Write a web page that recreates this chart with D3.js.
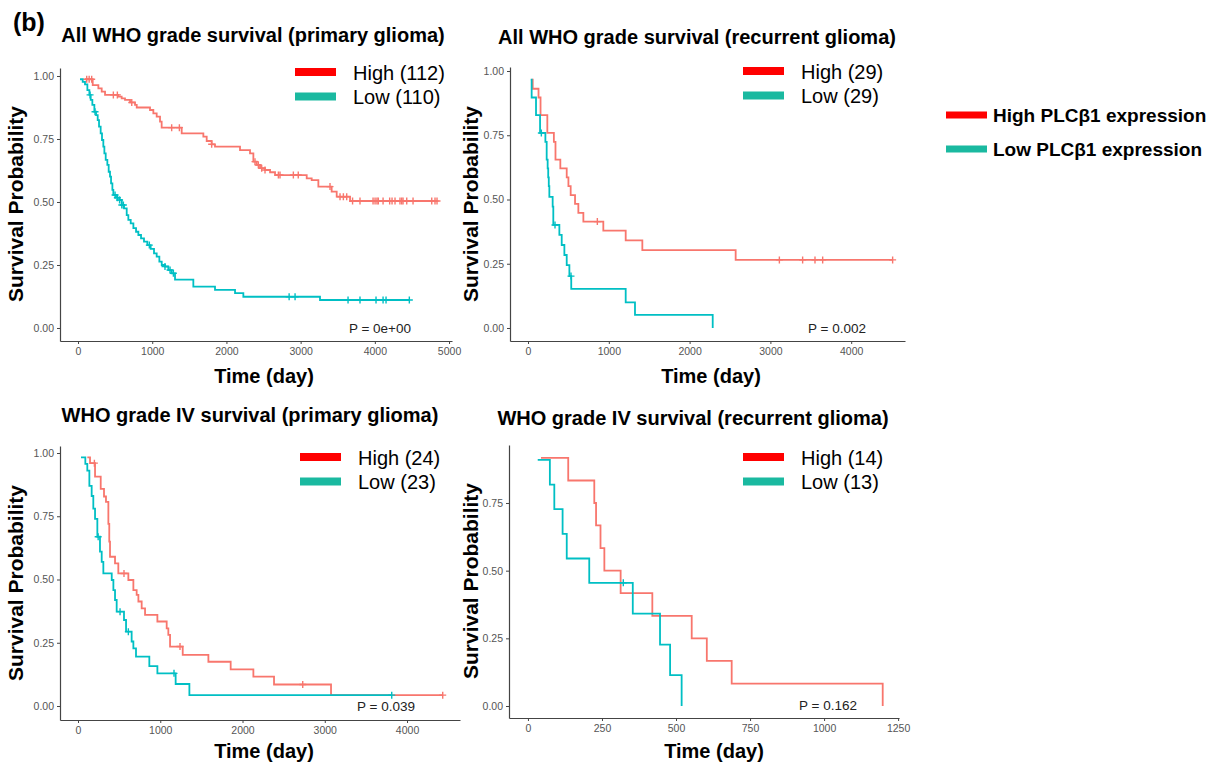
<!DOCTYPE html>
<html lang="en">
<head>
<meta charset="UTF-8">
<title>PLCb1 survival curves</title>
<script src="https://d3js.org/d3.v7.min.js"></script>
<style>
  body { margin: 0; background: #fff; }
  svg text { font-family: "Liberation Sans", Arial, Helvetica, sans-serif; }
</style>
</head>
<body>
<script>
// ---- data ----
var panelTitles = [
  "All WHO grade survival (primary glioma)",
  "All WHO grade survival (recurrent glioma)",
  "WHO grade IV survival (primary glioma)",
  "WHO grade IV survival (recurrent glioma)"
];
var highLabels = ["High (112)", "High (29)", "High (24)", "High (14)"];
var lowLabels = ["Low (110)", "Low (29)", "Low (23)", "Low (13)"];
var pValues = ["P = 0e+00", "P = 0.002", "P = 0.039", "P = 0.162"];
var xTickValues = [
  [0, 1000, 2000, 3000, 4000, 5000],
  [0, 1000, 2000, 3000, 4000],
  [0, 1000, 2000, 3000, 4000],
  [0, 250, 500, 750, 1000, 1250]
];
var yTickValues = [
  [0, 0.25, 0.5, 0.75, 1],
  [0, 0.25, 0.5, 0.75, 1],
  [0, 0.25, 0.5, 0.75, 1],
  [0, 0.25, 0.5, 0.75]
];

// panel 1: all grades, primary
var p1HighTime = [90, 198, 274, 319, 364, 544, 588, 633, 701, 768, 791, 970, 1015, 1060, 1105, 1127, 1397, 1689, 1734, 1801, 1846, 2183, 2318, 2363, 2408, 2453, 2520, 2588, 2655, 3082, 3149, 3239, 3418, 3486, 3666, 4838];
var p1HighSurv = [0.987, 0.964, 0.951, 0.938, 0.925, 0.918, 0.911, 0.905, 0.895, 0.885, 0.875, 0.865, 0.852, 0.839, 0.819, 0.795, 0.772, 0.759, 0.742, 0.729, 0.720, 0.706, 0.693, 0.660, 0.647, 0.634, 0.627, 0.618, 0.607, 0.594, 0.587, 0.561, 0.541, 0.521, 0.504, 0.504];
var p1HighCens = [117, 150, 184, 476, 530, 724, 1262, 1366, 1801, 2385, 2430, 2475, 2520, 2700, 2722, 2902, 2968, 3396, 3531, 3576, 3621, 3700, 3800, 3976, 4003, 4029, 4047, 4111, 4200, 4232, 4272, 4339, 4362, 4380, 4430, 4515, 4767, 4811, 4838];
var p1LowTime = [27, 63, 94, 126, 153, 171, 193, 220, 243, 265, 283, 305, 323, 341, 355, 373, 395, 413, 431, 445, 463, 476, 512, 557, 588, 620, 656, 678, 710, 746, 782, 813, 849, 889, 934, 979, 1024, 1060, 1096, 1128, 1172, 1217, 1262, 1307, 1554, 1846, 2116, 2228, 3261, 4465];
var p1LowSurv = [0.987, 0.977, 0.967, 0.944, 0.925, 0.905, 0.885, 0.858, 0.845, 0.825, 0.799, 0.772, 0.746, 0.720, 0.693, 0.667, 0.647, 0.620, 0.601, 0.574, 0.548, 0.528, 0.517, 0.508, 0.488, 0.475, 0.448, 0.429, 0.415, 0.396, 0.382, 0.369, 0.356, 0.343, 0.329, 0.314, 0.296, 0.283, 0.263, 0.250, 0.244, 0.230, 0.217, 0.192, 0.164, 0.151, 0.138, 0.124, 0.111, 0.111];
var p1LowCens = [162, 229, 499, 530, 560, 590, 611, 961, 1172, 1240, 1285, 2845, 2925, 3639, 3800, 4016, 4111, 4151, 4465];

// panel 2: all grades, recurrent
var p2HighTime = [45, 58, 130, 155, 239, 320, 340, 400, 479, 500, 528, 582, 623, 685, 932, 1209, 1415, 2570, 4513];
var p2HighSurv = [0.966, 0.931, 0.897, 0.828, 0.759, 0.724, 0.655, 0.621, 0.586, 0.552, 0.517, 0.483, 0.448, 0.414, 0.379, 0.341, 0.303, 0.265, 0.265];
var p2HighCens = [858, 3111, 3399, 3552, 3647, 4513];
var p2LowTime = [33, 45, 99, 149, 215, 231, 243, 250, 257, 264, 305, 313, 388, 417, 450, 479, 512, 535, 1209, 1324, 2286];
var p2LowSurv = [0.966, 0.897, 0.828, 0.759, 0.724, 0.655, 0.621, 0.586, 0.552, 0.510, 0.472, 0.401, 0.362, 0.323, 0.284, 0.245, 0.202, 0.152, 0.100, 0.051, 0];
var p2LowCens = [165, 334, 532];

// panel 3: grade IV, primary
var p3HighTime = [113, 146, 207, 276, 316, 340, 369, 380, 389, 450, 490, 612, 673, 713, 734, 774, 815, 965, 1078, 1098, 1119, 1273, 1585, 1856, 2132, 2383, 3076, 4434];
var p3HighSurv = [0.983, 0.960, 0.907, 0.858, 0.828, 0.807, 0.720, 0.650, 0.590, 0.564, 0.524, 0.498, 0.458, 0.439, 0.413, 0.386, 0.360, 0.334, 0.307, 0.281, 0.235, 0.202, 0.175, 0.145, 0.116, 0.085, 0.043, 0.043];
var p3HighCens = [199, 559, 1240, 2732, 4434];
var p3LowTime = [36, 89, 113, 138, 166, 186, 207, 235, 267, 288, 308, 410, 430, 450, 470, 559, 584, 652, 673, 705, 867, 965, 1187, 1354, 3814];
var p3LowSurv = [0.983, 0.957, 0.930, 0.870, 0.830, 0.780, 0.740, 0.669, 0.610, 0.570, 0.524, 0.498, 0.458, 0.419, 0.373, 0.340, 0.294, 0.255, 0.228, 0.195, 0.158, 0.129, 0.087, 0.043, 0.043];
var p3LowCens = [245, 511, 612, 1167, 3814];

// panel 4: grade IV, recurrent
var p4HighTime = [44, 136, 224, 230, 245, 258, 313, 420, 553, 604, 688, 1198];
var p4HighSurv = [0.917, 0.833, 0.750, 0.667, 0.583, 0.500, 0.417, 0.333, 0.250, 0.167, 0.083, 0];
var p4HighCens = [];
var p4LowTime = [33, 74, 89, 117, 131, 207, 354, 446, 480, 519];
var p4LowSurv = [0.909, 0.818, 0.727, 0.636, 0.545, 0.455, 0.341, 0.227, 0.114, 0];
var p4LowCens = [322];

var legendLabels = ["High PLC\u03b21 expression", "Low PLC\u03b21 expression"];

// ---- layout (pixels) ----
var layout = [
  { xr: [60, 452], xd: [-243, 5040], yr: [341, 68], yd: [-0.0516, 1.0317], title: [253, 42], xt: [264, 383], yt: [23, 204], p: [411, 333], leg: [295, 72] },
  { xr: [510, 905], xd: [-223, 4666], yr: [341, 67], yd: [-0.0506, 1.0156], title: [697, 44], xt: [711, 383], yt: [478, 204], p: [866, 333], leg: [743, 71] },
  { xr: [60, 460], xd: [-219, 4644], yr: [720, 446], yd: [-0.0553, 1.0277], title: [250, 422], xt: [264, 758], yt: [23, 583], p: [415, 711], leg: [300, 457] },
  { xr: [509, 899], xd: [-64, 1253], yr: [718, 445], yd: [-0.0443, 0.9642], title: [693, 425], xt: [714, 758], yt: [478, 581], p: [857, 710], leg: [743, 457] }
];

var curveHigh = "#F8766D", curveLow = "#00BFC4";
var keyHigh = "#FF0000", keyLow = "#1AB9A0";

var series = [
  { high: [p1HighTime, p1HighSurv, p1HighCens], low: [p1LowTime, p1LowSurv, p1LowCens] },
  { high: [p2HighTime, p2HighSurv, p2HighCens], low: [p2LowTime, p2LowSurv, p2LowCens] },
  { high: [p3HighTime, p3HighSurv, p3HighCens], low: [p3LowTime, p3LowSurv, p3LowCens] },
  { high: [p4HighTime, p4HighSurv, p4HighCens], low: [p4LowTime, p4LowSurv, p4LowCens] }
];

var svg = d3.select("body").append("svg")
  .attr("width", 1231)
  .attr("height", 766);

svg.append("rect").attr("width", 1231).attr("height", 766).attr("fill", "#fff");

svg.append("text")
  .attr("x", 13).attr("y", 31)
  .attr("font-size", 25).attr("font-weight", "bold")
  .text("(b)");

// value of a KM step function at time t
function levelAt(times, surv, t) {
  var i = d3.bisectRight(times, t) - 1;
  return surv[Math.max(0, i)];
}

layout.forEach(function(L, k) {
  var x = d3.scaleLinear().domain(L.xd).range(L.xr);
  var y = d3.scaleLinear().domain(L.yd).range(L.yr);
  var g = svg.append("g");

  var xAxis = g.append("g")
    .attr("transform", "translate(0," + L.yr[0] + ")")
    .call(d3.axisBottom(x).tickValues(xTickValues[k]).tickFormat(d3.format("d")).tickSize(3).tickSizeOuter(0).tickPadding(4));
  var yAxis = g.append("g")
    .attr("transform", "translate(" + L.xr[0] + ",0)")
    .call(d3.axisLeft(y).tickValues(yTickValues[k]).tickFormat(d3.format(".2f")).tickSize(3).tickSizeOuter(0).tickPadding(3));
  [xAxis, yAxis].forEach(function(a) {
    a.select(".domain").attr("stroke", "#444").attr("stroke-width", 1.2);
    a.selectAll(".tick line").attr("stroke", "#444");
    a.selectAll(".tick text").attr("fill", "#555").attr("font-size", 10.5)
      .attr("font-family", "'Liberation Sans', Arial, sans-serif");
  });

  var line = d3.line()
    .x(function(d) { return x(d[0]); })
    .y(function(d) { return y(d[1]); })
    .curve(d3.curveStepAfter);

  [[series[k].high, curveHigh], [series[k].low, curveLow]].forEach(function(s) {
    var times = s[0][0], surv = s[0][1], cens = s[0][2];
    g.append("path")
      .datum(d3.zip(times, surv))
      .attr("d", line)
      .attr("fill", "none")
      .attr("stroke", s[1])
      .attr("stroke-width", 1.8);
    g.selectAll(null)
      .data(cens)
      .enter()
      .append("path")
      .attr("d", function(t) {
        var cx = x(t), cy = y(levelAt(times, surv, t));
        return "M" + (cx - 3.5) + "," + cy + "H" + (cx + 3.5) + "M" + cx + "," + (cy - 3.5) + "V" + (cy + 3.5);
      })
      .attr("stroke", s[1])
      .attr("stroke-width", 1.4);
  });

  g.append("text")
    .attr("x", L.title[0]).attr("y", L.title[1])
    .attr("text-anchor", "middle")
    .attr("font-size", 20).attr("font-weight", "bold")
    .text(panelTitles[k]);

  g.append("text")
    .attr("x", L.xt[0]).attr("y", L.xt[1])
    .attr("text-anchor", "middle")
    .attr("font-size", 20).attr("font-weight", "bold")
    .text("Time (day)");

  g.append("text")
    .attr("transform", "translate(" + L.yt[0] + "," + L.yt[1] + ") rotate(-90)")
    .attr("text-anchor", "middle")
    .attr("font-size", 21).attr("font-weight", "bold")
    .text("Survival Probability");

  g.append("text")
    .attr("x", L.p[0]).attr("y", L.p[1])
    .attr("text-anchor", "end")
    .attr("font-size", 13.5)
    .attr("fill", "#222")
    .text(pValues[k]);

  // per-panel legend
  [[highLabels[k], keyHigh], [lowLabels[k], keyLow]].forEach(function(item, j) {
    var ly = L.leg[1] + j * 24.5;
    g.append("line")
      .attr("x1", L.leg[0]).attr("x2", L.leg[0] + 41)
      .attr("y1", ly).attr("y2", ly)
      .attr("stroke", item[1]).attr("stroke-width", 8);
    g.append("text")
      .attr("x", L.leg[0] + 58).attr("y", ly + 7.5)
      .attr("font-size", 20)
      .text(item[0]);
  });
});

// shared legend on the right
[[legendLabels[0], keyHigh], [legendLabels[1], keyLow]].forEach(function(item, j) {
  var ly = 115 + j * 34;
  svg.append("line")
    .attr("x1", 946).attr("x2", 987)
    .attr("y1", ly).attr("y2", ly)
    .attr("stroke", item[1]).attr("stroke-width", 7);
  svg.append("text")
    .attr("x", 993).attr("y", ly + 6.5)
    .attr("font-size", 19).attr("font-weight", "bold")
    .text(item[0]);
});
</script>
</body>
</html>
